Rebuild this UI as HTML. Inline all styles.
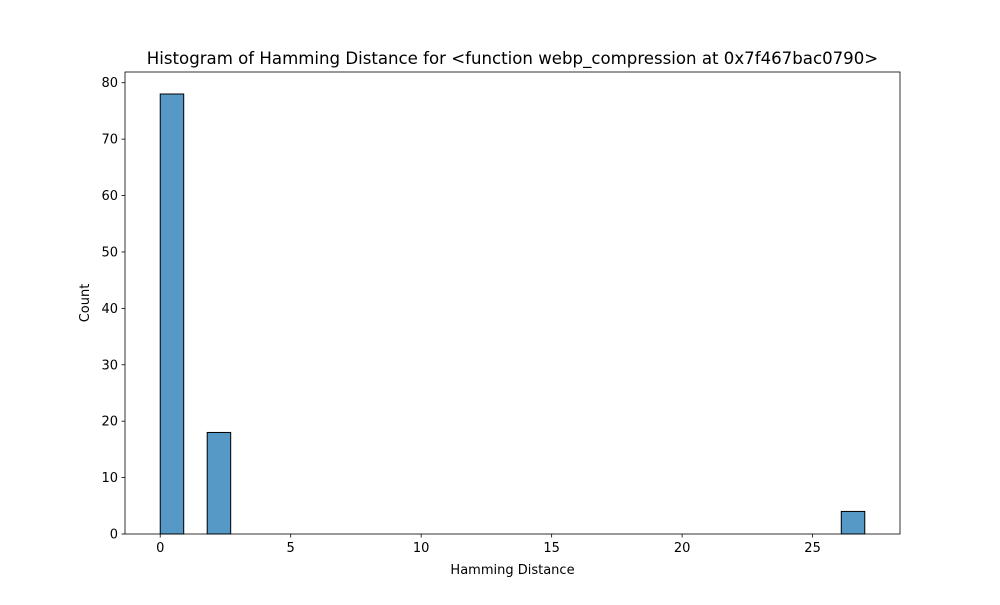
<!DOCTYPE html>
<html><head><meta charset="utf-8"><style>
body{margin:0;background:#fff;}
svg text{font-family:"DejaVu Sans","Liberation Sans",sans-serif;fill:#000;}
</style></head><body>
<svg width="1000" height="600" xmlns="http://www.w3.org/2000/svg" id="chart">
<rect width="1000" height="600" fill="#fff"/>
<text x="512.5" y="64" font-size="16.6" text-anchor="middle">Histogram of Hamming Distance for &lt;function webp_compression at 0x7f467bac0790&gt;</text>
<g id="bars"></g>
<g id="axes"></g>
<text x="512.5" y="574" font-size="13" text-anchor="middle">Hamming Distance</text>
<text transform="translate(89,303) rotate(-90)" font-size="13" text-anchor="middle">Count</text>
</svg>
<script>
const binStarts=[0,1.8,26.1];
const binWidth=0.9;
const counts=[78,18,4];
const xTicks=[0,5,10,15,20,25];
const yTicks=[0,10,20,30,40,50,60,70,80];

const L=125,R=900,T=72,B=534;
const xmin=-1.35,xmax=28.35,ymax=81.9;
const X=v=>L+(v-xmin)/(xmax-xmin)*(R-L);
const Y=v=>B-v/ymax*(B-T);
const NS="http://www.w3.org/2000/svg";
function mk(tag,attrs,parent){const e=document.createElementNS(NS,tag);for(const k in attrs)e.setAttribute(k,attrs[k]);parent.appendChild(e);return e;}
const bars=document.getElementById('bars'),axes=document.getElementById('axes');
binStarts.forEach((s,i)=>{
  const r=mk('rect',{x:X(s),y:Y(counts[i]),width:X(s+binWidth)-X(s),height:B-Y(counts[i]),fill:'#5799c6',stroke:'#000','stroke-width':1},bars);
  
  
});
const fr=mk('rect',{x:L,y:T,width:R-L,height:B-T,fill:'none',stroke:'#000','stroke-width':0.8},axes);


xTicks.forEach(t=>{
  const g=mk('g',{},axes);
  
  
  mk('line',{x1:X(t),x2:X(t),y1:B,y2:B+3.5,stroke:'#000','stroke-width':0.8},g);
  const tx=mk('text',{x:X(t),y:B+18,'font-size':13,'text-anchor':'middle'},g);tx.textContent=t;
});
yTicks.forEach(t=>{
  const g=mk('g',{},axes);
  
  
  mk('line',{x1:L-3.5,x2:L,y1:Y(t),y2:Y(t),stroke:'#000','stroke-width':0.8},g);
  const tx=mk('text',{x:L-7,y:Y(t)+4.5,'font-size':13,'text-anchor':'end'},g);tx.textContent=t;
});
</script>
</body></html>
